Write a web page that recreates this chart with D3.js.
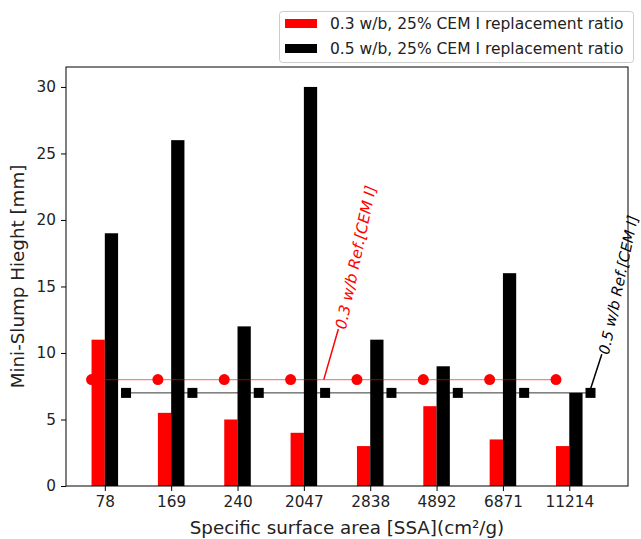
<!DOCTYPE html>
<html><head><meta charset="utf-8">
<script src="https://cdn.jsdelivr.net/npm/d3@7"></script>
<style>body{margin:0;background:#fff;}svg{display:block;font-family:"DejaVu Sans",sans-serif;}</style>
</head><body><svg id="c" width="641" height="539"></svg>
<script>
const categories = ["78","169","240","2047","2838","4892","6871","11214"];
const red03 = [11, 5.5, 5, 4, 3, 6, 3.5, 3];
const black05 = [19, 26, 12, 30, 11, 9, 16, 7];
const ref03 = [8, 8, 8, 8, 8, 8, 8, 8];
const ref05 = [7, 7, 7, 7, 7, 7, 7, 7];
const yTicks = [0, 5, 10, 15, 20, 25, 30];
const legendLabels = ["0.3 w/b, 25% CEM I replacement ratio", "0.5 w/b, 25% CEM I replacement ratio"];
const annLabels = ["0.3 w/b Ref.[CEM I]", "0.5 w/b Ref.[CEM I]"];

const svg = d3.select("#c");
const L = 66, R = 628, T = 67, B = 486;
const x = d3.scaleLinear().domain([-0.585, 7.885]).range([L, R]);
const y = d3.scaleLinear().domain([0, 31.5]).range([B, T]);
const bw = 0.2;
const fs = 15.3, fl = 18.3;

const g = svg.append("g");
// bars
g.selectAll(".rb").data(red03).join("rect")
  .attr("x", (d,i)=>x(i-bw)).attr("width", x(bw)-x(0))
  .attr("y", d=>y(d)).attr("height", d=>y(0)-y(d)).attr("fill", "#ff0000");
g.selectAll(".bb").data(black05).join("rect")
  .attr("x", (d,i)=>x(i)).attr("width", x(bw)-x(0))
  .attr("y", d=>y(d)).attr("height", d=>y(0)-y(d)).attr("fill", "#000");

// ref lines
const lineR = d3.line().x((d,i)=>x(i-0.2)).y(d=>y(d));
const lineB = d3.line().x((d,i)=>x(i+0.32)).y(d=>y(d));
g.append("path").attr("d", lineR(ref03)).attr("fill","none").attr("stroke","#ff0000").attr("stroke-opacity",0.5).attr("stroke-width",1.2);
g.selectAll(".rc").data(ref03).join("circle")
  .attr("cx",(d,i)=>x(i-0.2)).attr("cy",d=>y(d)).attr("r",5.5).attr("fill","#ff0000");
g.append("path").attr("d", lineB(ref05)).attr("fill","none").attr("stroke","#000").attr("stroke-width",0.8);
g.selectAll(".bs").data(ref05).join("rect")
  .attr("x",(d,i)=>x(i+0.32)-5).attr("y",d=>y(d)-5).attr("width",10).attr("height",10).attr("fill","#000");

// axes
const xa = svg.append("g").attr("transform",`translate(0,${B})`)
  .call(d3.axisBottom(x).tickValues(d3.range(categories.length)).tickFormat(i=>categories[i]).tickSize(5).tickPadding(5));
const ya = svg.append("g").attr("transform",`translate(${L},0)`)
  .call(d3.axisLeft(y).tickValues(yTicks).tickSize(5).tickPadding(5));
[xa, ya].forEach(a=>{ a.select(".domain").remove(); a.selectAll("text").attr("font-size",fs).attr("fill","#222").attr("font-family","DejaVu Sans"); a.selectAll("line").attr("stroke","#000"); });
svg.append("rect").attr("x",L).attr("y",T).attr("width",R-L).attr("height",B-T).attr("fill","none").attr("stroke","#000").attr("stroke-width",1);

// annotations
const ann = [
  {px: 3.3, py: 8, tx: 3.52, ty: 11.8, color:"#ff0000", label: annLabels[0], fsz: fs},
  {px: 7.32, py: 7.3, tx: 7.49, ty: 9.9, color:"#000", label: annLabels[1], fsz: 14.8}
];
ann.forEach(a=>{
  svg.append("line").attr("x1",x(a.px)).attr("y1",y(a.py)).attr("x2",x(a.tx)).attr("y2",y(a.ty))
    .attr("stroke",a.color).attr("stroke-width",1.5);
  svg.append("text").attr("transform",`translate(${x(a.tx)+3},${y(a.ty)}) rotate(-78)`)
    .attr("dominant-baseline","middle").attr("font-size",a.fsz).attr("font-style","italic")
    .attr("fill",a.color).text(a.label);
});

// axis labels
svg.append("text").attr("x",(L+R)/2).attr("y",534).attr("text-anchor","middle").attr("font-size",fl).attr("fill","#222")
  .text("Specific surface area [SSA](cm²/g)");
svg.append("text").attr("transform",`translate(24,${(T+B)/2}) rotate(-90)`).attr("text-anchor","middle").attr("font-size",fl).attr("fill","#222")
  .text("Mini-Slump Hieght [mm]");

// legend
const lg = svg.append("g");
lg.append("rect").attr("x",279.5).attr("y",11.5).attr("width",354).attr("height",51).attr("rx",3)
  .attr("fill","#fff").attr("fill-opacity",0.8).attr("stroke","#ccc");
["#ff0000","#000"].forEach((c,i)=>{
  lg.append("rect").attr("x",285).attr("y",19+i*25).attr("width",32).attr("height",9).attr("fill",c);
  lg.append("text").attr("x",330).attr("y",24+i*25).attr("dominant-baseline","middle").attr("font-size",15.5).attr("fill","#222").text(legendLabels[i]);
});
</script></body></html>
